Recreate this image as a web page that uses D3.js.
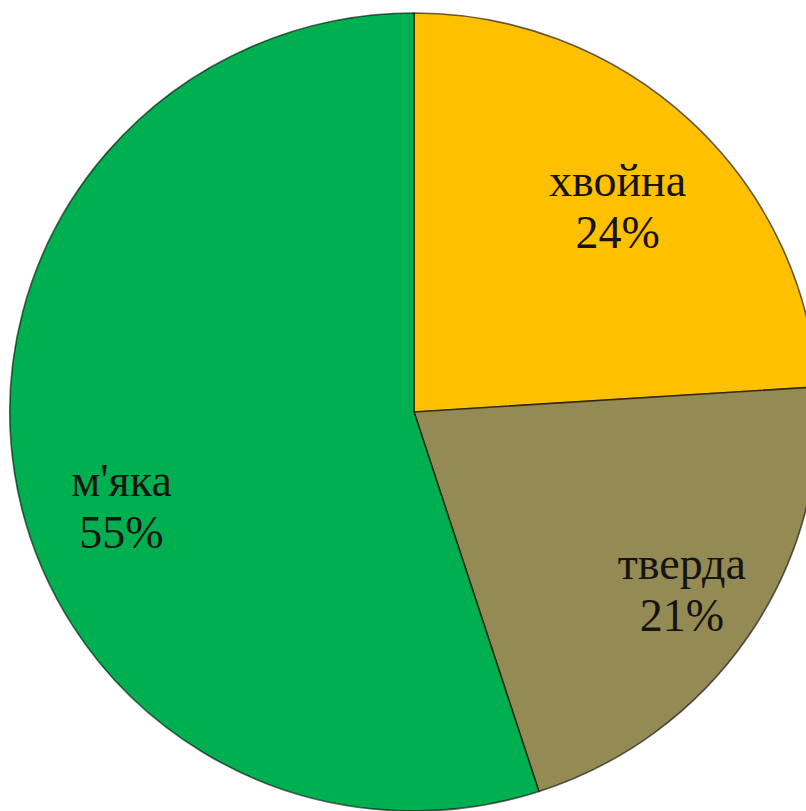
<!DOCTYPE html>
<html>
<head>
<meta charset="utf-8">
<script src="https://cdn.jsdelivr.net/npm/d3@7"></script>
<style>
  html, body { margin: 0; padding: 0; background: #fff; overflow: hidden; }
  svg { display: block; }
</style>
</head>
<body>
<script>
// data
var categories = ["хвойна", "тверда", "м'яка"];
var shares = [24, 21, 55];
var colors = ["#FFC000", "#948A54", "#00B050"];

var w = 806, h = 811;
var cx = 414, cy = 412, radius = 399;

var svg = d3.select("body").append("svg")
    .attr("width", w)
    .attr("height", h);

var data = categories.map(function(c, i) {
  return {name: c, value: shares[i], color: colors[i]};
});

var pie = d3.pie()
    .sort(null)
    .value(function(d) { return d.value; });

var arc = d3.arc().innerRadius(0).outerRadius(radius);

// the source pie is a touch wider than tall
var g = svg.append("g")
    .attr("transform", "translate(" + cx + "," + cy + ")");

var arcs = pie(data);

g.append("g")
  .attr("transform", "scale(1.013,1)")
  .selectAll("path")
  .data(arcs)
  .enter()
  .append("path")
  .attr("d", arc)
  .style("fill", function(d) { return d.data.color; })
  .style("stroke", "rgba(0,0,0,0.6)")
  .style("stroke-width", 1.6)
  .style("stroke-linejoin", "round");

// label placement tweaks, Excel puts them a bit off the centroid
var labelArc = d3.arc().innerRadius(radius * 0.76).outerRadius(radius * 0.76);
var nudge = {"хвойна": [-4, 5], "тверда": [17, -3], "м'яка": [7, 37]};

var labels = g.selectAll("text.lbl")
  .data(arcs)
  .enter()
  .append("text")
  .attr("class", "lbl")
  .attr("transform", function(d) {
    var c = labelArc.centroid(d);
    var n = nudge[d.data.name];
    return "translate(" + (c[0] + n[0]) + "," + (c[1] + n[1]) + ")";
  })
  .attr("text-anchor", "middle")
  .style("font-family", "'Liberation Serif', 'Times New Roman', serif")
  .style("font-size", "46px")
  .style("fill", "#141414");

labels.append("tspan")
  .attr("x", 0)
  .attr("y", 0)
  .text(function(d) { return d.data.name; });

labels.append("tspan")
  .attr("x", 0)
  .attr("y", 52)
  .text(function(d) { return d.data.value + "%"; });
</script>
</body>
</html>
